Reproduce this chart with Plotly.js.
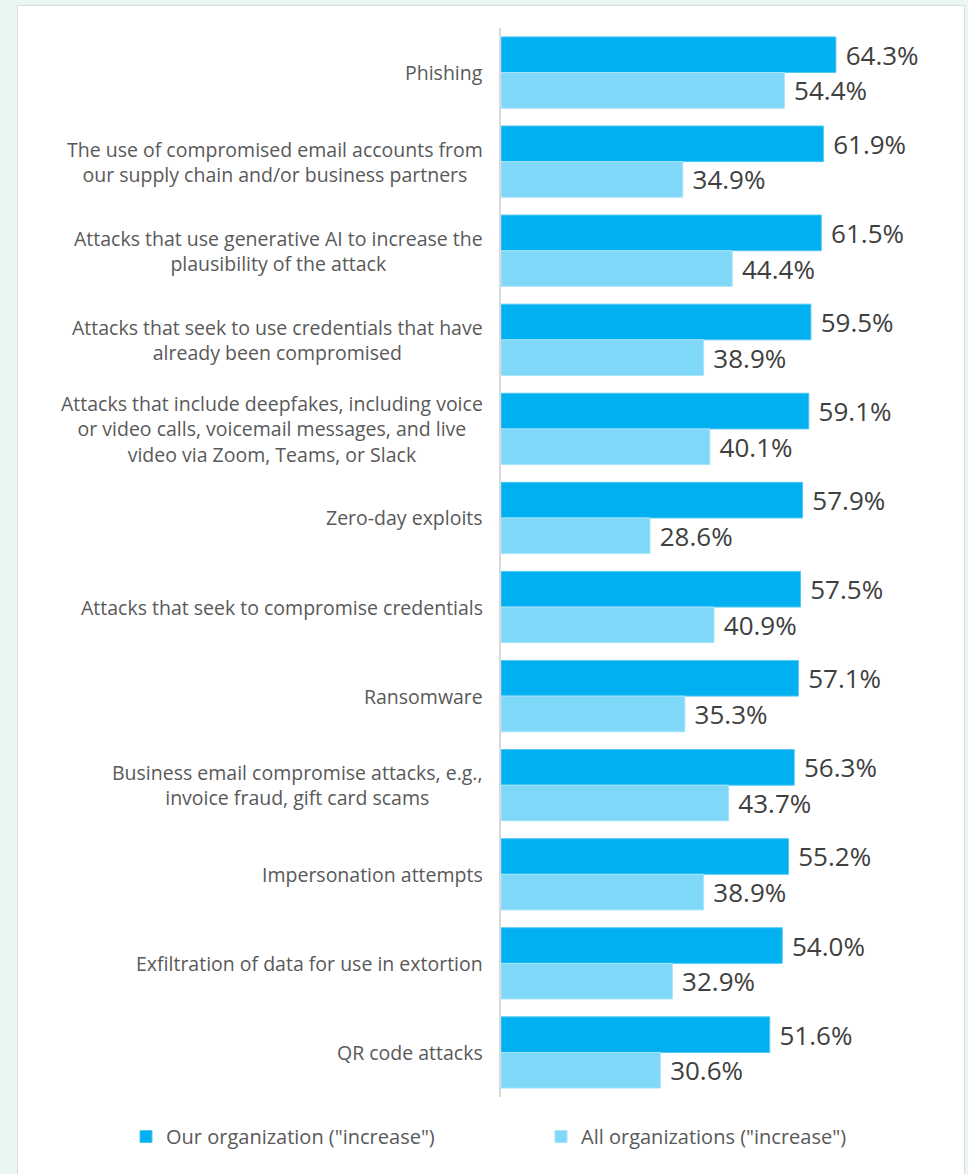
<!DOCTYPE html>
<html>
<head>
<meta charset="utf-8">
<script src="https://cdn.plot.ly/plotly-3.0.1.min.js"></script>
<style>
  html, body { margin:0; padding:0; width:968px; height:1174px; overflow:hidden; background:#eaf6f4; }
  #panel { position:absolute; left:17px; top:5px; width:946px; height:1180px; background:#ffffff; border:1px solid #dcdcdc; }
  #chart { position:absolute; left:0; top:0; width:968px; height:1174px; }
</style>
</head>
<body>
<div id="panel"></div>
<div id="chart"></div>
<script>
const categories = [
  "Phishing",
  "The use of compromised email accounts from<br>our supply chain and/or business partners",
  "Attacks that use generative AI to increase the<br>plausibility of the attack",
  "Attacks that seek to use credentials that have<br>already been compromised",
  "Attacks that include deepfakes, including voice<br>or video calls, voicemail messages, and live<br>video via Zoom, Teams, or Slack",
  "Zero-day exploits",
  "Attacks that seek to compromise credentials",
  "Ransomware",
  "Business email compromise attacks, e.g.,<br>invoice fraud, gift card scams",
  "Impersonation attempts",
  "Exfiltration of data for use in extortion",
  "QR code attacks"
];
const ourOrg = [64.3, 61.9, 61.5, 59.5, 59.1, 57.9, 57.5, 57.1, 56.3, 55.2, 54.0, 51.6];
const allOrgs = [54.4, 34.9, 44.4, 38.9, 40.1, 28.6, 40.9, 35.3, 43.7, 38.9, 32.9, 30.6];
const seriesNames = ['Our organization ("increase")', 'All organizations ("increase")'];

const FONT = '"Open Sans", "Liberation Sans", sans-serif';
const valueFont = { family: FONT, size: 26, color: '#404040' };

const traces = [
  {
    type: 'bar', orientation: 'h', name: seriesNames[0], legend: 'legend',
    y: categories, x: ourOrg,
    marker: { color: '#00b0f0', line: { color: '#52c8f3', width: 1 } },
    text: ourOrg.map(v => '\u00a0' + v.toFixed(1) + '%'),
    textposition: 'outside', textfont: valueFont, cliponaxis: false,
    constraintext: 'none', hoverinfo: 'x+name'
  },
  {
    type: 'bar', orientation: 'h', name: seriesNames[1], legend: 'legend2',
    y: categories, x: allOrgs,
    marker: { color: '#80d8f8', line: { color: '#a8e4fa', width: 1 } },
    text: allOrgs.map(v => '\u00a0' + v.toFixed(1) + '%'),
    textposition: 'outside', textfont: valueFont, cliponaxis: false,
    constraintext: 'none', hoverinfo: 'x+name'
  }
];

const annotations = categories.map(c => ({
  xref: 'paper', yref: 'y', x: 0, y: c, xanchor: 'right', yanchor: 'middle',
  xshift: -16, text: c, showarrow: false, align: 'center',
  font: { family: FONT, size: 19.5, color: '#595959' }
}));

const legendFont = { family: FONT, size: 20, color: '#595959' };

const layout = {
  width: 968, height: 1174,
  paper_bgcolor: 'rgba(0,0,0,0)', plot_bgcolor: 'rgba(0,0,0,0)',
  margin: { l: 501, r: 17, t: 28, b: 77, pad: 0 },
  barmode: 'group', bargap: 0.2, bargroupgap: 0,
  showlegend: true,
  font: { family: FONT },
  xaxis: { range: [0, 86.4], visible: false, fixedrange: true },
  yaxis: {
    autorange: 'reversed', showticklabels: false, ticks: '',
    showline: true, linecolor: '#d9d9d9', linewidth: 2, showgrid: false, zeroline: false
  },
  legend: {
    orientation: 'h', x: -0.8333, y: -0.037, xanchor: 'left', yanchor: 'middle',
    font: legendFont, itemwidth: 30, bgcolor: 'rgba(0,0,0,0)'
  },
  legend2: {
    orientation: 'h', x: 0.0889, y: -0.037, xanchor: 'left', yanchor: 'middle',
    font: legendFont, itemwidth: 30, bgcolor: 'rgba(0,0,0,0)'
  },
  annotations: annotations
};

Plotly.newPlot('chart', traces, layout, { displayModeBar: false, staticPlot: true });
</script>
</body>
</html>
